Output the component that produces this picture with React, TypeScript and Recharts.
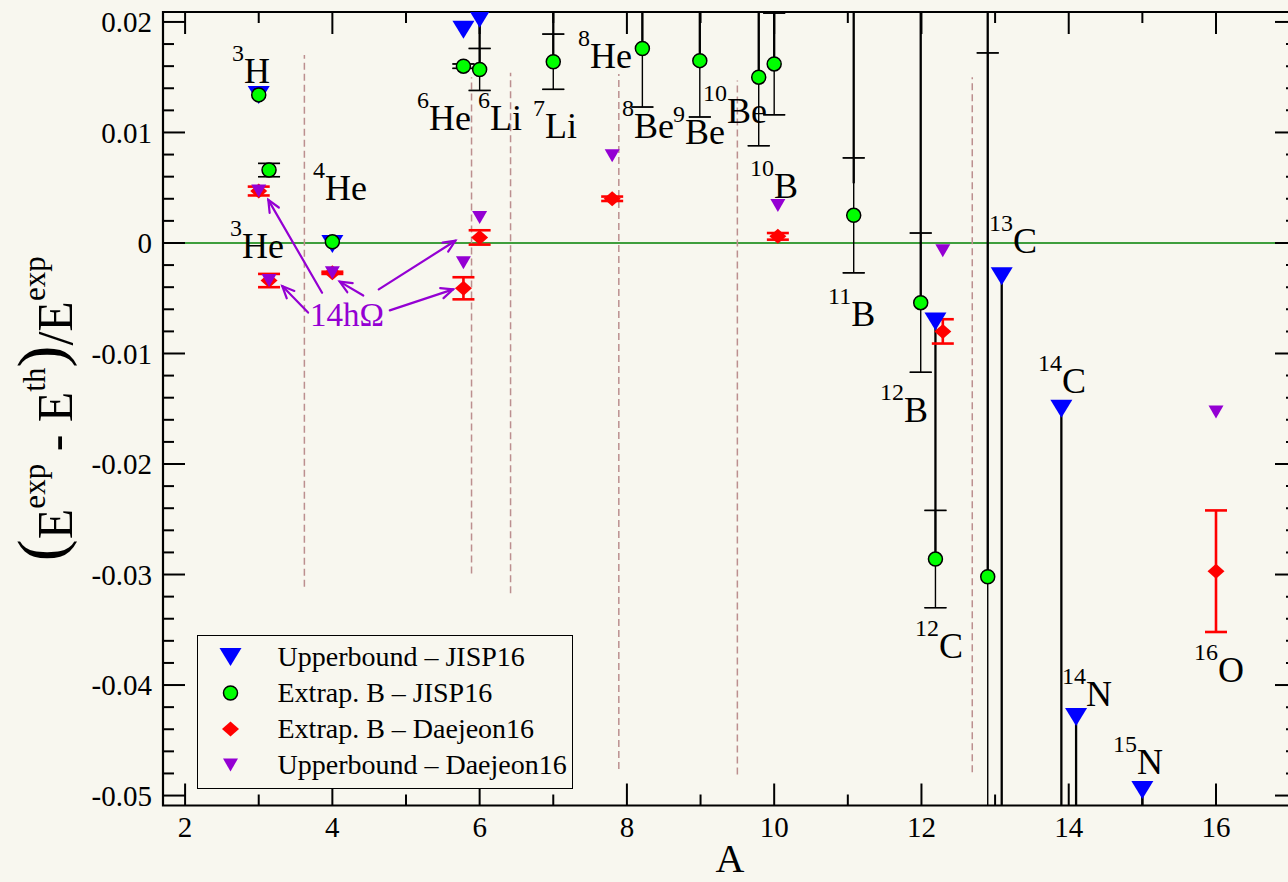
import React from 'react'
import {
  ScatterChart,
  Scatter,
  XAxis,
  YAxis,
  ErrorBar,
  ReferenceLine,
  ReferenceArea,
  ReferenceDot,
  Legend,
} from 'recharts'

const FONT = '"Liberation Serif", "Times New Roman", Times, serif'
const BG = '#f8f7ef'
const BLUE = '#0000ff'
const GREEN = '#00ff00'
const RED = '#ff0000'
const VIOLET = '#9400d3'
const SEP = '#bc8f8f'

const X_DOMAIN: [number, number] = [1.7, 17.1]
const Y_DOMAIN: [number, number] = [-0.0509, 0.0209]

// axis ticks
const xMajor = [2, 4, 6, 8, 10, 12, 14, 16]
const xMinor = [3, 5, 7, 9, 11, 13, 15]
const yMajor = [-0.05, -0.04, -0.03, -0.02, -0.01, 0, 0.01, 0.02]
const yMinor = [
  -0.048, -0.046, -0.044, -0.042, -0.038, -0.036, -0.034, -0.032, -0.028, -0.026,
  -0.024, -0.022, -0.018, -0.016, -0.014, -0.012, -0.008, -0.006, -0.004, -0.002,
  0.002, 0.004, 0.006, 0.008, 0.012, 0.014, 0.016, 0.018,
]

// Upperbound – JISP16 (points inside the frame)
const ubJispA = [3, 4, 5.78, 6.0, 12.19, 13.09, 13.9, 14.1, 15.0]
const ubJispE = [0.0134, -0.0001, 0.0193, 0.0203, -0.0071, -0.003, -0.015, -0.0429, -0.0495]

// Extrap. B – JISP16, symmetric uncertainty (null = no bar)
const exJispA = [3, 3.14, 4, 5.78, 6.0, 7.0, 8.21, 8.99, 9.79, 10.0, 11.08, 11.99, 12.19, 12.9]
const exJispE = [0.0134, 0.0066, 0.0001, 0.016, 0.0157, 0.0164, 0.0176, 0.0165, 0.015, 0.0162, 0.0025, -0.0054, -0.0286, -0.0302]
const exJispErr = [null, 0.0006, null, 0.0002, 0.0019, 0.0025, 0.0053, 0.0051, 0.0062, 0.0046, 0.0052, 0.0063, 0.0044, 0.0474]

// spread between upper bound and extrapolation (heavy bars)
const spanA = [6.0, 7.0, 8.21, 8.99, 9.79, 10.0, 11.08, 11.99, 12.19, 12.9, 13.09, 13.9, 14.1, 15.0]
const spanLo = [0.0157, 0.0164, 0.0176, 0.0165, 0.015, 0.0162, 0.0054, -0.0054, -0.0286, -0.0302, -0.0509, -0.0509, -0.0509, -0.0509]
const spanHi = [0.0203, 0.0209, 0.0209, 0.0209, 0.0209, 0.0209, 0.0209, 0.0209, -0.0071, 0.0209, -0.003, -0.015, -0.0429, -0.0495]

// Extrap. B – Daejeon16
const exDjA = [3, 3.14, 4, 5.78, 6.0, 7.8, 10.05, 12.29, 16]
const exDjE = [0.0047, -0.0034, -0.0027, -0.0041, 0.0005, 0.004, 0.0006, -0.008, -0.0297]
const exDjErr = [0.0004, 0.0006, 0.0001, 0.001, 0.00065, 0.0002, 0.0003, 0.0011, 0.0055]

// Upperbound – Daejeon16
const ubDjA = [3, 3.14, 4, 5.78, 6.0, 7.8, 10.05, 12.29, 16]
const ubDjE = [0.0047, -0.0034, -0.0027, -0.0018, 0.0023, 0.0079, 0.0034, -0.0007, -0.0153]

// dashed separators
const sepA = [3.62, 5.89, 6.42, 7.89, 9.5, 12.69]
const sepTop = [0.017, 0.015, 0.0154, 0.0153, 0.0147, 0.015]
const sepBot = [-0.0311, -0.0299, -0.0317, -0.0476, -0.0481, -0.0479]

// nuclide labels (mass number, element, anchor)
const nucSup = ['3', '4', '3', '6', '6', '7', '8', '8', '9', '10', '10', '11', '12', '12', '13', '14', '14', '15', '16']
const nucEl = ['H', 'He', 'He', 'He', 'Li', 'Li', 'He', 'Be', 'Be', 'Be', 'B', 'B', 'B', 'C', 'C', 'C', 'N', 'N', 'O']
const nucA = [2.638, 3.738, 2.611, 5.15, 5.979, 6.726, 7.337, 7.934, 8.627, 9.034, 9.672, 10.732, 11.438, 11.913, 12.918, 13.583, 13.909, 14.602, 15.702]
const nucE = [0.01452, 0.00385, -0.0014, 0.01018, 0.01018, 0.00946, 0.01579, 0.00946, 0.009, 0.0109, 0.00403, -0.00747, -0.01624, -0.03751, -0.00095, -0.01353, -0.04186, -0.04801, -0.03977]

// 14hΩ annotation arrows
const arrowFromA = [3.86, 3.67, 4.42, 4.63, 4.78]
const arrowFromE = [-0.0045, -0.0063, -0.00475, -0.0042, -0.0061]
const arrowToA = [3.13, 3.32, 4.1, 5.67, 5.64]
const arrowToE = [0.0039, -0.0039, -0.0035, 0.0002, -0.0042]
const noteText = '14hΩ'
const noteA = 3.697
const noteE = -0.00747

const legendNames = ['Upperbound – JISP16', 'Extrap. B – JISP16', 'Extrap. B – Daejeon16', 'Upperbound – Daejeon16']

const inY = (v: number) => v >= Y_DOMAIN[0] && v <= Y_DOMAIN[1]
const clampY = (v: number) => Math.min(Y_DOMAIN[1], Math.max(Y_DOMAIN[0], v))

const ubJisp = ubJispA.map((a, i) => ({ a, e: ubJispE[i] }))
const exJisp = exJispA.map((a, i) => ({ a, e: exJispE[i] }))
// error bars are split into stem + caps so nothing runs past the frame
const jispBars = exJispA
  .map((a, i) => ({ a, e: exJispE[i], err: exJispErr[i] as number }))
  .filter(d => d.err != null)
const jispStems = jispBars.map(d => {
  const lo = clampY(d.e - d.err)
  const hi = clampY(d.e + d.err)
  return { a: d.a, e: lo, span: [0, hi - lo] }
})
const jispCaps = jispBars.flatMap(d =>
  [d.e - d.err, d.e + d.err].filter(inY).map(v => ({ a: d.a, e: v, cap: [0, 0] })),
)
const spans = spanA.map((a, i) => ({ a, e: spanLo[i], span: [0, spanHi[i] - spanLo[i]] }))
const exDj = exDjA.map((a, i) => ({ a, e: exDjE[i], err: exDjErr[i] }))
const ubDj = ubDjA.map((a, i) => ({ a, e: ubDjE[i] }))

const downTri = (cx: number, cy: number, w: number, h: number, fill: string) => (
  <polygon points={`${cx - w},${cy - h} ${cx + w},${cy - h} ${cx},${cy + h}`} fill={fill} />
)
const dot = (cx: number, cy: number) => (
  <circle cx={cx} cy={cy} r={7} fill={GREEN} stroke="#000" strokeWidth={1.5} />
)
const diamond = (cx: number, cy: number) => (
  <polygon points={`${cx - 8.5},${cy} ${cx},${cy - 7.5} ${cx + 8.5},${cy} ${cx},${cy + 7.5}`} fill={RED} />
)

const blueShape = (p: any) => downTri(p.cx, p.cy, 11, 9, BLUE)
const violetShape = (p: any) => downTri(p.cx, p.cy, 7.5, 6.5, VIOLET)
const greenShape = (p: any) => dot(p.cx, p.cy)
const redShape = (p: any) => diamond(p.cx, p.cy)
const noMark = () => <g />

const legendMarks = [
  (cx: number, cy: number) => downTri(cx, cy, 11, 9, BLUE),
  dot,
  diamond,
  (cx: number, cy: number) => downTri(cx, cy, 7.5, 6.5, VIOLET),
]

// inward ticks on both sides of the frame
const yTick = (len: number, w: number) => (p: any) => {
  const l = Math.min(p.x1, p.x2)
  const r = Math.max(p.x1, p.x2)
  return (
    <g stroke="#000" strokeWidth={w}>
      <line x1={l} y1={p.y1} x2={l + len} y2={p.y1} />
      <line x1={r - len} y1={p.y1} x2={r} y2={p.y1} />
    </g>
  )
}
const xTick = (len: number, w: number) => (p: any) => {
  const t = Math.min(p.y1, p.y2)
  const b = Math.max(p.y1, p.y2)
  return (
    <g stroke="#000" strokeWidth={w}>
      <line x1={p.x1} y1={t} x2={p.x1} y2={t + len} />
      <line x1={p.x1} y1={b - len} x2={p.x1} y2={b} />
    </g>
  )
}

const arrowShape = (p: any) => {
  const { x1, y1, x2, y2 } = p
  const ang = Math.atan2(y2 - y1, x2 - x1)
  const L = 13
  const a1 = ang + Math.PI - 0.42
  const a2 = ang + Math.PI + 0.42
  return (
    <g stroke={VIOLET} strokeWidth={2.2} fill="none" strokeLinecap="round">
      <line x1={x1} y1={y1} x2={x2} y2={y2} />
      <polyline
        points={`${x2 + L * Math.cos(a1)},${y2 + L * Math.sin(a1)} ${x2},${y2} ${x2 + L * Math.cos(a2)},${y2 + L * Math.sin(a2)}`}
      />
    </g>
  )
}

const fmtY = (v: number) => (v === 0 ? '0' : v.toFixed(2))

const YTitle = (props: any) => {
  const vb = props.viewBox || { x: 0, y: 12, width: 163, height: 793.5 }
  const cx = vb.x + 72
  const cy = vb.y + vb.height / 2
  return (
    <text transform={`translate(${cx},${cy}) rotate(-90)`} textAnchor="middle" fontFamily={FONT} fill="#000">
      <tspan fontSize={66} dy={-9}>(</tspan>
      <tspan fontSize={50} dy={9}>E</tspan>
      <tspan fontSize={31} dy={-27}>exp</tspan>
      <tspan fontSize={50} dy={27}> - E</tspan>
      <tspan fontSize={31} dy={-27}>th</tspan>
      <tspan fontSize={66} dy={18}>)</tspan>
      <tspan fontSize={50} dy={9}>/E</tspan>
      <tspan fontSize={31} dy={-27}>exp</tspan>
    </text>
  )
}

const XTitle = (props: any) => {
  const vb = props.viewBox || { x: 163, y: 805.5, width: 1134, height: 76.5 }
  return (
    <text x={vb.x + vb.width / 2} y={vb.y + 66} textAnchor="middle" fontFamily={FONT} fontSize={40} fill="#000">
      A
    </text>
  )
}

const renderLegend = () => (
  <div
    style={{
      position: 'relative',
      width: 376,
      height: 154,
      boxSizing: 'border-box',
      border: '1.5px solid #000',
      background: BG,
      fontFamily: FONT,
      fontSize: 28,
      color: '#000',
    }}
  >
    {legendNames.map((name, i) => (
      <div
        key={name}
        style={{ position: 'absolute', left: 0, top: 2.5 + i * 36, height: 36, display: 'flex', alignItems: 'center' }}
      >
        <svg width={79.5} height={36}>{legendMarks[i](32.5, 18)}</svg>
        <span style={{ whiteSpace: 'nowrap', lineHeight: '36px' }}>{name}</span>
      </div>
    ))}
  </div>
)

export default function App() {
  return (
    <div
      style={{
        position: 'absolute',
        left: 0,
        top: 0,
        width: 1288,
        height: 882,
        overflow: 'hidden',
        background: BG,
        fontFamily: FONT,
      }}
    >
      <ScatterChart width={1298} height={882} margin={{ top: 12, right: 1, bottom: 0, left: 0 }}>
        <XAxis
          type="number"
          dataKey="a"
          domain={X_DOMAIN}
          allowDataOverflow
          ticks={xMajor}
          interval={0}
          height={76.5}
          axisLine={false}
          tickLine={false}
          tickSize={0}
          tickMargin={11}
          tick={{ fontFamily: FONT, fontSize: 29, fill: '#000' }}
          label={XTitle}
        />
        <YAxis
          type="number"
          dataKey="e"
          domain={Y_DOMAIN}
          allowDataOverflow
          ticks={yMajor}
          interval={0}
          width={163}
          axisLine={false}
          tickLine={false}
          tickSize={0}
          tickMargin={11}
          tickFormatter={fmtY}
          tick={{ fontFamily: FONT, fontSize: 29, fill: '#000' }}
          label={YTitle}
        />

        <ReferenceLine y={0} stroke="#008000" strokeWidth={1.6} />
        {sepA.map((a, i) => (
          <ReferenceLine
            key={`sep${i}`}
            segment={[{ x: a, y: sepBot[i] }, { x: a, y: sepTop[i] }]}
            stroke={SEP}
            strokeWidth={1.5}
            strokeDasharray="7 4"
          />
        ))}

        <Scatter name={legendNames[0]} data={ubJisp} shape={blueShape} isAnimationActive={false} />
        <Scatter data={jispStems} shape={noMark} legendType="none" isAnimationActive={false}>
          <ErrorBar dataKey="span" direction="y" width={0} stroke="#000" strokeWidth={1.4} isAnimationActive={false} />
        </Scatter>
        <Scatter data={jispCaps} shape={noMark} legendType="none" isAnimationActive={false}>
          <ErrorBar dataKey="cap" direction="y" width={11} stroke="#000" strokeWidth={1.4} isAnimationActive={false} />
        </Scatter>
        <Scatter name={legendNames[1]} data={exJisp} shape={greenShape} isAnimationActive={false} />
        <Scatter data={spans} shape={noMark} legendType="none" isAnimationActive={false}>
          <ErrorBar dataKey="span" direction="y" width={0} stroke="#000" strokeWidth={2.3} isAnimationActive={false} />
        </Scatter>
        <Scatter name={legendNames[2]} data={exDj} shape={redShape} isAnimationActive={false}>
          <ErrorBar dataKey="err" direction="y" width={11} stroke={RED} strokeWidth={2.6} isAnimationActive={false} />
        </Scatter>
        <Scatter name={legendNames[3]} data={ubDj} shape={violetShape} isAnimationActive={false} />

        {arrowFromA.map((a, i) => (
          <ReferenceLine
            key={`arr${i}`}
            segment={[{ x: a, y: arrowFromE[i] }, { x: arrowToA[i], y: arrowToE[i] }]}
            shape={arrowShape}
          />
        ))}
        <ReferenceDot
          x={noteA}
          y={noteE}
          r={0}
          ifOverflow="visible"
          shape={(p: any) => (
            <text x={p.cx} y={p.cy} fontFamily={FONT} fontSize={33} fill={VIOLET}>
              {noteText}
            </text>
          )}
        />
        {nucA.map((a, i) => (
          <ReferenceDot
            key={`nuc${i}`}
            x={a}
            y={nucE[i]}
            r={0}
            ifOverflow="visible"
            shape={(p: any) => (
              <text x={p.cx} y={p.cy} fontFamily={FONT} fill="#000">
                <tspan fontSize={24} dy={-22}>{nucSup[i]}</tspan>
                <tspan fontSize={36} dy={22}>{nucEl[i]}</tspan>
              </text>
            )}
          />
        ))}

        {yMajor.map(v => (
          <ReferenceLine key={`ym${v}`} y={v} shape={yTick(22, 2)} />
        ))}
        {yMinor.map(v => (
          <ReferenceLine key={`yn${v}`} y={v} shape={yTick(11, 2)} />
        ))}
        {xMajor.map(v => (
          <ReferenceLine key={`xm${v}`} x={v} shape={xTick(22, 2)} />
        ))}
        {xMinor.map(v => (
          <ReferenceLine key={`xn${v}`} x={v} shape={xTick(11, 2)} />
        ))}
        <ReferenceArea
          x1={X_DOMAIN[0]}
          x2={X_DOMAIN[1]}
          y1={Y_DOMAIN[0]}
          y2={Y_DOMAIN[1]}
          fill="none"
          stroke="#000"
          strokeWidth={2.2}
        />

        <Legend
          layout="horizontal"
          verticalAlign="middle"
          align="center"
          content={renderLegend}
          wrapperStyle={{ left: 197, top: 635, width: 376, height: 154 }}
        />
      </ScatterChart>
    </div>
  )
}
